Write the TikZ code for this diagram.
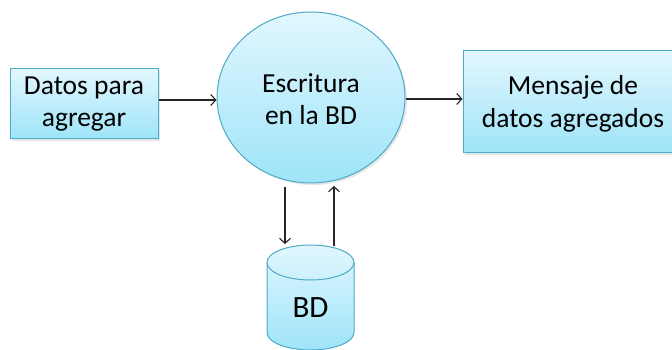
\documentclass[tikz,border=0pt]{standalone}
\usepackage{fontspec}
\setmainfont{Carlito}
\usetikzlibrary{shapes.geometric,arrows.meta,shadows}
\definecolor{topc}{RGB}{226,247,254}
\definecolor{botc}{RGB}{158,228,249}
\definecolor{bordc}{RGB}{78,170,200}
\tikzset{
  lbl/.style={font=\fontsize{27.5}{32.5}\selectfont, align=center, text=black},
  fillbox/.style={draw=bordc, line width=1pt, top color=topc, bottom color=botc},
  shbox/.style={fillbox, drop shadow={shadow xshift=2pt, shadow yshift=-2pt, opacity=0.2, fill=gray}},
  flow/.style={draw=black!85, line width=1.1pt, -{Straight Barb[length=5pt,width=11pt]}}
}
\begin{document}
\begin{tikzpicture}[x=1pt,y=-1pt]
\useasboundingbox (0,0) rectangle (672,350);
% input box
\node[shbox, rectangle, minimum width=148pt, minimum height=70pt, inner sep=0pt] (in) at (84,104) {};
\node[lbl] at (in.center) {Datos para\\agregar};
% process ellipse
\node[shbox, ellipse, minimum width=188pt, minimum height=171pt, inner sep=0pt] (proc) at (311,97.5) {};
\node[lbl] at (311,99) {Escritura\\en la BD};
% output box
\node[shbox, rectangle, minimum width=220pt, minimum height=102pt, inner sep=0pt] (out) at (573,102) {};
\node[lbl] at (573,104) {Mensaje de\\datos agregados};
% database cylinder
\node[minimum width=87pt, minimum height=105pt, inner sep=0pt] (bd) at (310.5,297.5) {};
\path[fillbox] (267,262.5) -- (267,332.5) arc[start angle=180, end angle=360, x radius=43.5, y radius=-17.5] -- (354,262.5) arc[start angle=0, end angle=180, x radius=43.5, y radius=-17.5] -- cycle;
\draw[draw=bordc, line width=1pt] (267,262.5) arc[start angle=180, end angle=360, x radius=43.5, y radius=-17.5];
\node[font=\fontsize{31}{36}\selectfont] at (310.5,308) {BD};
\coordinate (dtop) at (285,244);
\coordinate (utop) at (334,246);
\coordinate (pd) at (285,187);
\coordinate (pu) at (334,186);
% connectors
\draw[flow] (in.east |- 0,100) -- (proc.west |- 0,100);
\draw[flow] (proc.east |- 0,99) -- (out.west |- 0,99);
\draw[flow] (pd) -- (dtop);
\draw[flow] (utop) -- (pu);
\end{tikzpicture}
\end{document}
